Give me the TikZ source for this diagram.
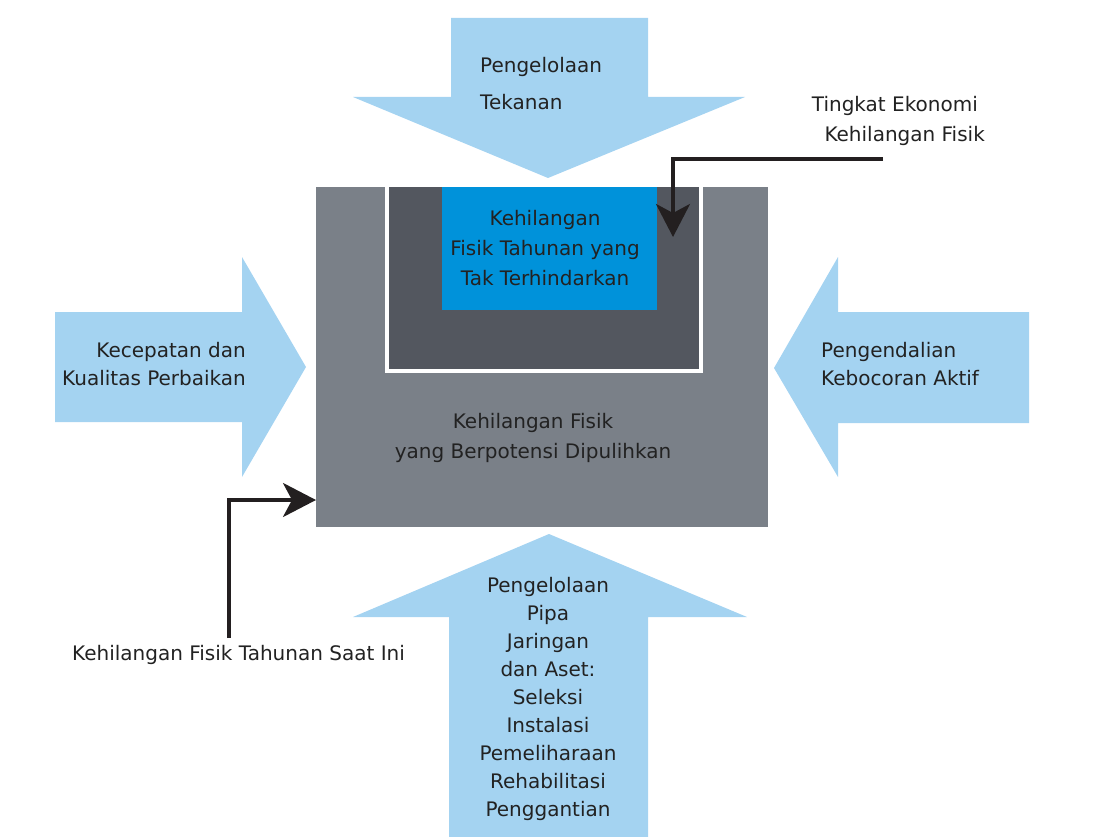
\documentclass[tikz,border=0pt]{standalone}
\usepackage{fontspec}
\setmainfont{DejaVu Sans}
\usetikzlibrary{arrows.meta}
\definecolor{arrowblue}{RGB}{164,211,241}
\definecolor{boxblue}{RGB}{0,146,218}
\definecolor{outergray}{RGB}{122,128,136}
\definecolor{innergray}{RGB}{83,87,95}
\definecolor{inktext}{RGB}{34,34,34}
\definecolor{leader}{RGB}{35,31,32}
\tikzset{
  bigarrow/.style={fill=arrowblue, draw=none},
  label/.style={font=\fontsize{20}{28}\selectfont, text=inktext, inner sep=0pt},
  pointer/.style={draw=leader, line width=3.5pt,
    -{Stealth[length=33pt, width=34pt, inset=9pt]}},
}
\begin{document}
\begin{tikzpicture}[x=1pt, y=-1pt]
\useasboundingbox (0,0) rectangle (1094,837);

% block arrows
\path[bigarrow] (451,18) -- (648,18) -- (648,97) -- (745,97) -- (548,178)
  -- (353,97) -- (451,97) -- cycle;
\path[bigarrow] (55,312) -- (242,312) -- (242,257) -- (306,367) -- (242,477)
  -- (242,422) -- (55,422) -- cycle;
\path[bigarrow] (1029,312) -- (838,312) -- (838,257) -- (774,368) -- (838,477)
  -- (838,423) -- (1029,423) -- cycle;
\path[bigarrow] (449,837) -- (449,617) -- (353,617) -- (549,534) -- (747,617)
  -- (648,617) -- (648,837) -- cycle;

% nested loss boxes
\node[fill=outergray, minimum width=452pt, minimum height=340pt, anchor=north west,
  inner sep=0pt] (outer) at (316,187) {};
\fill[white] (385,187) rectangle (703,373);
\node[fill=innergray, minimum width=310pt, minimum height=182pt, anchor=north west,
  inner sep=0pt] (inner) at (389,187) {};
\node[fill=boxblue, minimum width=215pt, minimum height=123pt, anchor=north west,
  inner sep=0pt] (unavoid) at (442,187) {};

% labels (base anchors sit on the last line's baseline)
\node[label, align=left, anchor=base west, font=\fontsize{20}{37}\selectfont]
  (press) at (480,110) {Pengelolaan\\Tekanan};
\node[label, align=right, anchor=base east] (repair) at (246,385)
  {Kecepatan dan\\Kualitas Perbaikan};
\node[label, align=left, anchor=base west] (alc) at (821,385)
  {Pengendalian\\Kebocoran Aktif};
\node[label, align=center, anchor=base, font=\fontsize{20}{30}\selectfont]
  (uarl) at (545,285) {Kehilangan\\Fisik Tahunan yang\\Tak Terhindarkan};
\node[label, align=center, anchor=base, font=\fontsize{20}{30}\selectfont]
  (recov) at (533,458) {Kehilangan Fisik\\yang Berpotensi Dipulihkan};
\node[label, align=center, anchor=base, font=\fontsize{20}{27.9}\selectfont]
  (asset) at (548,816) {Pengelolaan\\Pipa\\Jaringan\\dan Aset:\\Seleksi\\Instalasi\\Pemeliharaan\\Rehabilitasi\\Penggantian};
\node[label, anchor=base west] (carl) at (72,660)
  {Kehilangan Fisik Tahunan Saat Ini};
\node[label, align=right, anchor=base east, font=\fontsize{20}{30}\selectfont]
  (elel) at (985,142) {Tingkat Ekonomi\hspace*{7pt}\\Kehilangan Fisik};

% leader arrows
\coordinate (carltop) at (229,638);
\coordinate (carltip) at (316,500);
\draw[pointer] (carltop) |- (carltip);
\coordinate (elelend) at (883,159);
\coordinate (eleltip) at (673,237);
\draw[pointer] (elelend) -| (eleltip);
\end{tikzpicture}
\end{document}
